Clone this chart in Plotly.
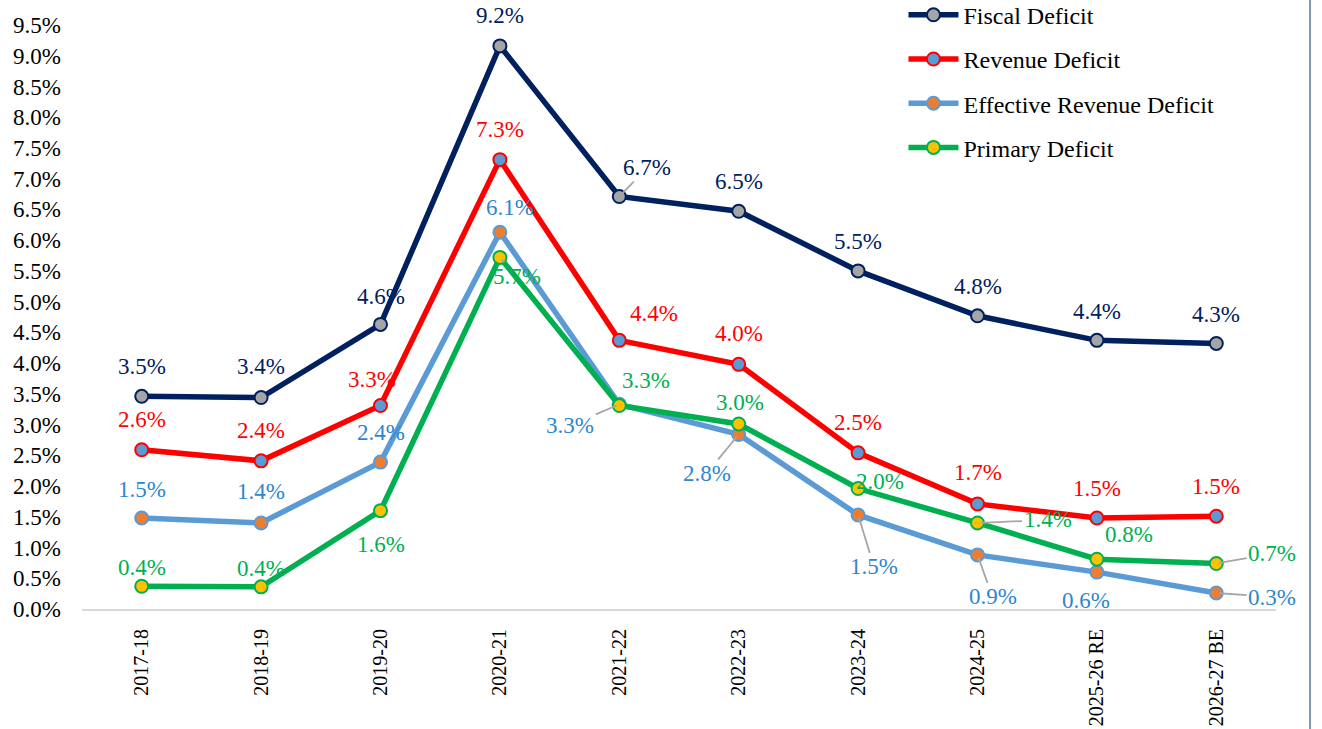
import plotly.graph_objects as go

years = ["2017-18", "2018-19", "2019-20", "2020-21", "2021-22", "2022-23",
         "2023-24", "2024-25", "2025-26 RE", "2026-27 BE"]
fiscal = [3.46, 3.44, 4.63, 9.16, 6.71, 6.47, 5.50, 4.77, 4.37, 4.32]
revenue = [2.59, 2.41, 3.31, 7.31, 4.37, 3.98, 2.54, 1.71, 1.48, 1.51]
effective = [1.48, 1.40, 2.39, 6.13, 3.33, 2.84, 1.53, 0.88, 0.60, 0.26]
primary = [0.37, 0.36, 1.60, 5.72, 3.31, 3.01, 1.96, 1.40, 0.81, 0.74]
y_ticks = [i * 0.5 for i in range(20)]

FONT = "Liberation Serif, Times New Roman, serif"
LEADER = "#A6A6A6"

series = [
    dict(name="Fiscal Deficit", y=fiscal, line="#002060", fill="#A5A5A5", text="#002060",
         offs=[(0, -30), (0, -31), (0, -28), (0, -30), (28, -29, True), (0, -30),
               (0, -29), (0, -29), (0, -29), (0, -29)]),
    dict(name="Revenue Deficit", y=revenue, line="#FF0000", fill="#5B9BD5", text="#FF0000",
         offs=[(0, -30), (0, -30), (-9, -26), (0, -30), (35, -27), (0, -31),
               (0, -30), (0, -31), (0, -30), (0, -30)]),
    dict(name="Effective Revenue Deficit", y=effective, line="#5B9BD5", fill="#ED7D31", text="#2E86D0",
         offs=[(0, -29), (0, -31), (0, -30), (10, -25), (-49, 21, True), (-32, 39, True),
               (16, 52, True), (15, 42, True), (-11, 28), (56, 4, True)]),
    dict(name="Primary Deficit", y=primary, line="#00B050", fill="#FFC000", text="#00B050",
         offs=[(0, -19), (0, -18), (0, 34), (17, 19, True), (27, -25), (1, -21),
               (22, -7), (70, -3, True), (32, -25), (56, -10, True)]),
]

fig = go.Figure()
annotations = []
for i, s in enumerate(series):
    fig.add_trace(go.Scatter(
        x=years, y=s["y"], name=s["name"], mode="lines+markers",
        legendgroup=f"g{i}",
        line=dict(color=s["line"], width=5.5),
        marker=dict(size=13, color=s["fill"], line=dict(color=s["line"], width=2)),
        hoverinfo="skip",
    ))
    for j, (cat, v) in enumerate(zip(years, s["y"])):
        o = s["offs"][j]
        txt = f"{v:.1f}%"
        if len(o) == 3:
            annotations.append(dict(
                x=cat, y=v, xref="x", yref="y", text=txt, showarrow=True,
                ax=o[0], ay=o[1], arrowhead=0, arrowwidth=1.8, arrowcolor=LEADER,
                standoff=3, font=dict(family=FONT, size=23, color=s["text"])))
        else:
            annotations.append(dict(
                x=cat, y=v, xref="x", yref="y", text=txt, showarrow=False,
                xshift=o[0], yshift=-o[1],
                font=dict(family=FONT, size=23, color=s["text"])))

fig.update_layout(
    width=1322, height=729,
    margin=dict(l=82, r=46, t=0, b=120, autoexpand=False),
    paper_bgcolor="white", plot_bgcolor="white",
    font=dict(family=FONT, size=20, color="black"),
    showlegend=True,
    legend=dict(x=0.688, y=1.012, xanchor="left", yanchor="top",
                font=dict(family=FONT, size=24, color="black"),
                tracegroupgap=10, bgcolor="rgba(0,0,0,0)", itemwidth=50),
    annotations=annotations,
    xaxis=dict(
        type="category", range=[-0.5, 9.5], tickangle=-90, showgrid=False,
        showline=True, linecolor="#D9D9D9", linewidth=2, ticks="",
        tickfont=dict(family=FONT, size=20, color="black"),
        ticklabelstandoff=10, zeroline=False, fixedrange=True,
    ),
    yaxis=dict(
        range=[0, 9.907], tickvals=y_ticks,
        ticktext=[f"{t:.1f}%" for t in y_ticks],
        showgrid=False, showline=False, zeroline=False, ticks="",
        tickfont=dict(family=FONT, size=23, color="black"),
        ticklabelstandoff=20, fixedrange=True,
    ),
    shapes=[dict(type="line", xref="paper", yref="paper",
                 x0=1.0285, x1=1.0285, y0=-0.2, y1=1.0,
                 line=dict(color="#8497B0", width=2))],
)

fig.write_html("out.html", config={"displayModeBar": False},
               post_script="document.body.style.margin='0';")
